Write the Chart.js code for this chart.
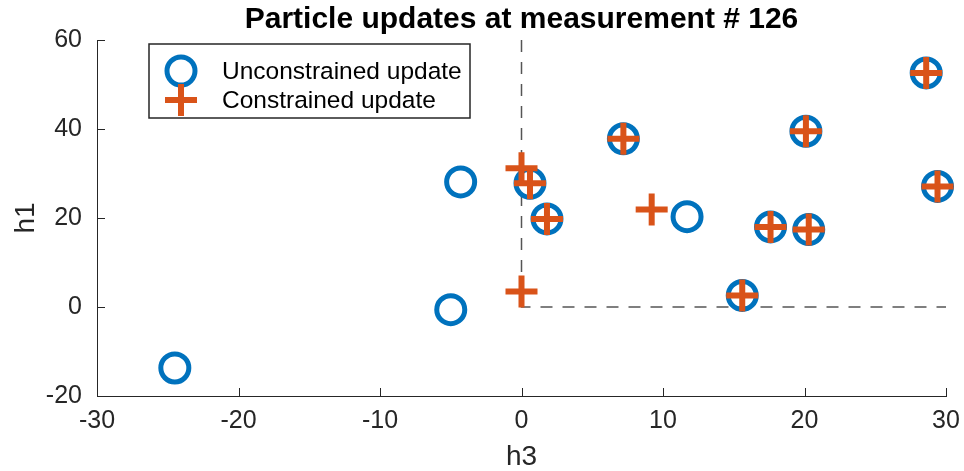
<!DOCTYPE html>
<html>
<head>
<meta charset="utf-8">
<script src="https://cdn.jsdelivr.net/npm/chart.js@4.4.1/dist/chart.umd.min.js"></script>
<style>
  html, body { margin: 0; padding: 0; background: #fff; }
  #wrap { width: 964px; height: 471px; }
</style>
</head>
<body>
<div id="wrap"><canvas id="particleChart" width="964" height="471"></canvas></div>
<script>
// values (h3 on x, h1 on y)
const unconstrainedH3 = [-24.5, -5.0, -4.3, 0.6, 1.8, 7.2, 11.7, 15.6, 17.6, 20.1, 20.3, 28.6, 29.4];
const unconstrainedH1 = [-13.7, -0.6, 28.1, 27.8, 19.8, 37.8, 20.3, 2.6, 18.0, 39.5, 17.4, 52.6, 27.1];
const constrainedH3 = [0, 0, 0.6, 1.8, 7.2, 9.2, 15.6, 17.6, 20.1, 20.3, 28.6, 29.4];
const constrainedH1 = [31.2, 3.5, 27.8, 19.8, 37.8, 21.9, 2.6, 18.0, 39.5, 17.4, 52.6, 27.1];
// dashed constraint boundary
const boundaryH3 = [0, 0, 30];
const boundaryH1 = [60, 0, 0];
const xTicks = [-30, -20, -10, 0, 10, 20, 30];
const yTicks = [-20, 0, 20, 40, 60];
const seriesNames = ['Unconstrained update', 'Constrained update'];
const chartTitle = 'Particle updates at measurement # 126';

const BLUE = '#0072BD';
const ORANGE = '#D95319';
const AXIS = '#262626';
const FONT = '"Liberation Sans", Arial, Helvetica, sans-serif';

function toPoints(xs, ys) {
    return xs.map((x, i) => ({ x: x, y: ys[i] }));
}

// inward tick marks, title and legend box (matlab look)
const matlabDecor = {
    id: 'matlabDecor',
    afterDraw(chart) {
        const ctx = chart.ctx;
        const area = chart.chartArea;
        const sx = chart.scales.x;
        const sy = chart.scales.y;
        ctx.save();
        ctx.strokeStyle = AXIS;
        ctx.lineWidth = 1;
        ctx.beginPath();
        xTicks.forEach(v => {
            const px = Math.round(sx.getPixelForValue(v)) + 0.5;
            ctx.moveTo(px, area.bottom);
            ctx.lineTo(px, area.bottom - 8);
        });
        yTicks.forEach(v => {
            const py = Math.round(sy.getPixelForValue(v)) + 0.5;
            ctx.moveTo(area.left, py);
            ctx.lineTo(area.left + 8, py);
        });
        ctx.stroke();

        // title
        ctx.fillStyle = '#000';
        ctx.font = 'bold 30px ' + FONT;
        ctx.textAlign = 'center';
        ctx.textBaseline = 'middle';
        ctx.fillText(chartTitle, (area.left + area.right) / 2, 20);

        // legend
        const lx = 149, ly = 44, lw = 321, lh = 74;
        ctx.fillStyle = '#fff';
        ctx.fillRect(lx, ly, lw, lh);
        ctx.strokeStyle = AXIS;
        ctx.lineWidth = 1.5;
        ctx.strokeRect(lx, ly, lw, lh);

        ctx.strokeStyle = BLUE;
        ctx.lineWidth = 5;
        ctx.beginPath();
        ctx.arc(181, 71, 14, 0, Math.PI * 2);
        ctx.stroke();

        ctx.strokeStyle = ORANGE;
        ctx.lineWidth = 6;
        ctx.beginPath();
        ctx.moveTo(165, 100); ctx.lineTo(197, 100);
        ctx.moveTo(181, 84); ctx.lineTo(181, 116);
        ctx.stroke();

        ctx.fillStyle = '#000';
        ctx.font = '24.5px ' + FONT;
        ctx.textAlign = 'left';
        ctx.fillText(seriesNames[0], 222, 72);
        ctx.fillText(seriesNames[1], 222, 101);
        ctx.restore();
    }
};

function createParticleChart() {
    const ctx = document.getElementById('particleChart').getContext('2d');
    new Chart(ctx, {
        type: 'scatter',
        data: {
            datasets: [{
                label: seriesNames[1],
                data: toPoints(constrainedH3, constrainedH1),
                pointStyle: 'cross',
                pointRadius: 16,
                pointBorderWidth: 6,
                borderColor: ORANGE,
                backgroundColor: ORANGE,
                clip: false,
                order: 0
            }, {
                label: seriesNames[0],
                data: toPoints(unconstrainedH3, unconstrainedH1),
                pointStyle: 'circle',
                pointRadius: 14,
                pointBorderWidth: 5,
                borderColor: BLUE,
                backgroundColor: 'rgba(0,0,0,0)',
                clip: false,
                order: 1
            }, {
                label: 'boundary',
                type: 'line',
                data: toPoints(boundaryH3, boundaryH1),
                borderColor: '#555',
                borderWidth: 1.5,
                borderDash: [12, 10],
                pointRadius: 0,
                fill: false,
                order: 2
            }]
        },
        options: {
            responsive: false,
            animation: false,
            layout: { autoPadding: false, padding: { left: 0, right: 18, top: 40, bottom: 0 } },
            plugins: {
                legend: { display: false },
                tooltip: { enabled: false },
                title: { display: false }
            },
            scales: {
                x: {
                    type: 'linear',
                    min: -30,
                    max: 30,
                    afterFit: s => { s.height = 75; s.paddingLeft = 0; s.paddingRight = 0; },
                    afterBuildTicks: s => { s.ticks = xTicks.map(v => ({ value: v })); },
                    grid: { display: false, drawTicks: false },
                    border: { display: true, color: AXIS, width: 1 },
                    ticks: { color: AXIS, padding: 10, font: { family: FONT, size: 25 } },
                    title: { display: true, text: 'h3', color: AXIS, padding: { top: 0, bottom: -3 }, font: { family: FONT, size: 28 } }
                },
                y: {
                    type: 'linear',
                    min: -20,
                    max: 60,
                    afterFit: s => { s.width = 97; s.paddingTop = 0; s.paddingBottom = 0; },
                    afterBuildTicks: s => { s.ticks = yTicks.map(v => ({ value: v })); },
                    grid: { display: false, drawTicks: false },
                    border: { display: true, color: AXIS, width: 1 },
                    ticks: { color: AXIS, padding: 15, font: { family: FONT, size: 25 } },
                    title: { display: true, text: 'h1', color: AXIS, padding: { top: 9, bottom: 0 }, font: { family: FONT, size: 28 } }
                }
            }
        },
        plugins: [matlabDecor]
    });
}

document.addEventListener('DOMContentLoaded', createParticleChart);
</script>
</body>
</html>
